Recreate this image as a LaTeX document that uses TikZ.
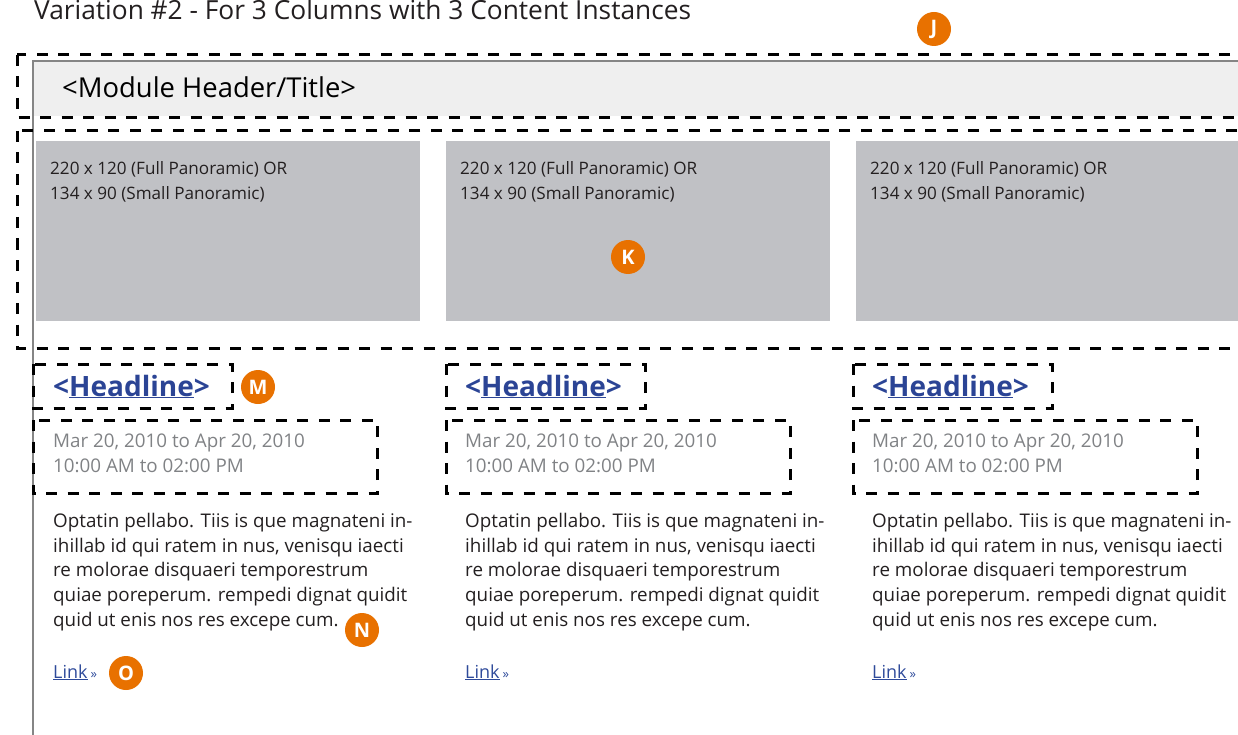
\documentclass[tikz,border=0pt]{standalone}
\usepackage{fontspec}
\setmainfont{Open Sans}
\definecolor{hdrfill}{HTML}{EFEFEF}
\definecolor{framec}{HTML}{858585}
\definecolor{imgc}{HTML}{C0C1C5}
\definecolor{orangec}{HTML}{E87100}
\definecolor{headc}{HTML}{2B4495}
\definecolor{datec}{HTML}{808285}
\definecolor{bodyc}{HTML}{231F20}
\definecolor{linkc}{HTML}{2E4A9A}
\tikzset{
  dbox/.style={draw=black, line width=3pt, dash pattern=on 11pt off 10.5pt},
  badge/.style={circle, fill=orangec, text=white, minimum size=34pt, inner sep=0pt,
    font=\fontsize{20}{20}\selectfont\bfseries},
  txt/.style={anchor=base west, inner sep=0pt},
  imgtxt/.style={txt, font=\fontsize{17.1}{17.1}\selectfont, text=bodyc},
  headtxt/.style={txt, font=\fontsize{28}{28}\selectfont\bfseries, text=headc},
  datetxt/.style={txt, font=\fontsize{18.8}{18.8}\selectfont, text=datec},
  bodytxt/.style={txt, font=\fontsize{18.8}{18.8}\selectfont, text=bodyc},
  linktxt/.style={txt, font=\fontsize{18}{18}\selectfont, text=linkc},
}
\begin{document}
\begin{tikzpicture}[x=1pt,y=-1pt]
\useasboundingbox (0,0) rectangle (1238,735);
\clip (0,0) rectangle (1238,735);
% title
\node[txt, font=\fontsize{26.3}{26.3}\selectfont, text=bodyc] (title) at (34,20)
  {Variation \#2 - For 3 Columns with 3 Content Instances};
% module frame
\fill[hdrfill] (33,61) rectangle (1260,116);
\draw[framec, line width=2.5pt] (33,760) -- (33,61) -- (1260,61);
\node[txt, font=\fontsize{27.4}{27.4}\selectfont, text=black] (hdr) at (62,98) {<Module Header/Title>};
% images
\foreach \ix/\n in {36/1,446/2,856/3}{
  \fill[imgc] (\ix,141) rectangle +(384,180);
  \node[imgtxt] (imgA\n) at (\ix+14,175) {220 x 120 (Full Panoramic) OR};
  \node[imgtxt] (imgB\n) at (\ix+14,200) {134 x 90 (Small Panoramic)};
}
% outer dashed boxes
\draw[dbox] (17,55) rectangle (1270,118);
\draw[dbox] (17,131) rectangle (1270,348);
% columns
\foreach \bx/\tx/\n in {33/53/1,446/465/2,853/872/3}{
  \draw[dbox] (\bx,364) rectangle +(199,44);
  \draw[dbox] (\bx,420) rectangle +(344,73);
  \node[headtxt] (head\n) at (\tx,396) {<\underline{Headline}>};
  \node[datetxt] (dateA\n) at (\tx,447) {Mar 20, 2010 to Apr 20, 2010};
  \node[datetxt] (dateB\n) at (\tx,472) {10:00 AM to 02:00 PM};
  \node[bodytxt] (bodyA\n) at (\tx,527) {Optatin pellabo. Tiis is que magnateni in-};
  \node[bodytxt] (bodyB\n) at (\tx,552) {ihillab id qui ratem in nus, venisqu iaecti};
  \node[bodytxt] (bodyC\n) at (\tx,576.5) {re molorae disquaeri temporestrum};
  \node[bodytxt] (bodyD\n) at (\tx,601.5) {quiae poreperum. rempedi dignat quidit};
  \node[bodytxt] (bodyE\n) at (\tx,626) {quid ut enis nos res excepe cum.};
  \node[linktxt] (link\n) at (\tx,678) {\underline{Link}\,{\fontsize{13}{13}\selectfont »}};
}
% badges
\node[badge] (J) at (934,29) {J};
\node[badge] (K) at (628,257) {K};
\node[badge] (M) at (258,387) {M};
\node[badge] (N) at (362,630) {N};
\node[badge] (O) at (126,673) {O};
\end{tikzpicture}
\end{document}
